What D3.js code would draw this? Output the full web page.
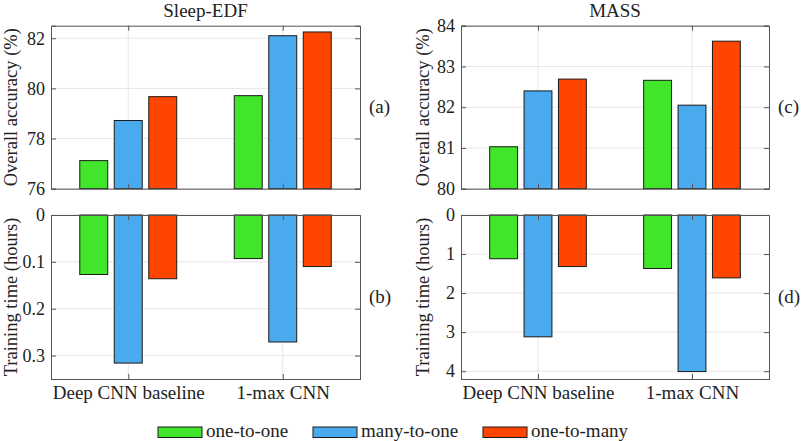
<!DOCTYPE html>
<html>
<head>
<meta charset="utf-8">
<script src="https://cdn.jsdelivr.net/npm/d3@7"></script>
<style>
  html, body { margin: 0; padding: 0; background: #fff; }
  svg { display: block; font-family: "Liberation Serif", "Times New Roman", serif; }
</style>
</head>
<body>
<svg id="chart" width="805" height="441"></svg>
<script>
// ---- data ----
const categories = ["Deep CNN baseline", "1-max CNN"];
const seriesNames = ["one-to-one", "many-to-one", "one-to-many"];
const seriesColors = ["#41e62b", "#4aaaee", "#ff4500"];

// values per category, in series order
const edfAccuracy = [[77.12, 78.72, 79.67], [79.71, 82.10, 82.25]];
const edfTime = [[0.127, 0.316, 0.136], [0.093, 0.271, 0.110]];
const massAccuracy = [[81.03, 82.40, 82.69], [82.66, 82.05, 83.62]];
const massTime = [[1.12, 3.12, 1.32], [1.37, 4.01, 1.61]];

const edfAccTicks = [76, 78, 80, 82];
const edfTimeTicks = [0, 0.1, 0.2, 0.3];
const massAccTicks = [80, 81, 82, 83, 84];
const massTimeTicks = [0, 1, 2, 3, 4];

const titles = ["Sleep-EDF", "MASS"];
const panelLetters = ["(a)", "(b)", "(c)", "(d)"];
const yLabels = ["Overall accuracy (%)", "Training time (hours)"];

// ---- layout ----
const svg = d3.select("#chart");
const FONT = 18;
const FONT_L = 19;
const cols = [{x0: 51, x1: 360}, {x0: 461, x1: 769}];
const rowsY = [{y0: 25.7, y1: 188.7}, {y0: 215, y1: 379}];

const panels = [
  {col: 0, row: 0, data: edfAccuracy, ticks: edfAccTicks, domain: [76, 82.5], fmt: d => d, letter: panelLetters[0]},
  {col: 0, row: 1, data: edfTime, ticks: edfTimeTicks, domain: [0, 0.35], fmt: d => d === 0 ? "0" : d3.format(".1f")(d), letter: panelLetters[1]},
  {col: 1, row: 0, data: massAccuracy, ticks: massAccTicks, domain: [80, 84], fmt: d => d, letter: panelLetters[2]},
  {col: 1, row: 1, data: massTime, ticks: massTimeTicks, domain: [0, 4.2], fmt: d => d, letter: panelLetters[3]},
];

const offsets = [-0.2233, 0, 0.2233];
const barW = 0.181;

function ci2x(ci) { return ci + 1; }

panels.forEach(p => {
  const c = cols[p.col], r = rowsY[p.row];
  const x = d3.scaleLinear().domain([0.5, 2.5]).range([c.x0, c.x1]);
  const y = p.row === 0
    ? d3.scaleLinear().domain(p.domain).range([r.y1, r.y0])
    : d3.scaleLinear().domain(p.domain).range([r.y0, r.y1]);
  const g = svg.append("g");

  // grid
  g.append("g").selectAll("line.h").data(p.ticks).join("line")
    .attr("x1", c.x0).attr("x2", c.x1)
    .attr("y1", d => y(d)).attr("y2", d => y(d))
    .attr("stroke", "#e6e6e6").attr("stroke-width", 1);
  g.append("g").selectAll("line.v").data([1, 2]).join("line")
    .attr("x1", d => x(d)).attr("x2", d => x(d))
    .attr("y1", r.y0).attr("y2", r.y1)
    .attr("stroke", "#e6e6e6").attr("stroke-width", 1);

  // bars
  const flat = [];
  p.data.forEach((vals, ci) => vals.forEach((v, si) => flat.push({ci, si, v})));
  const base = p.row === 0 ? p.domain[0] : 0;
  g.append("g").selectAll("rect").data(flat).join("rect")
    .attr("x", d => x(ci2x(d.ci) + offsets[d.si] - barW / 2))
    .attr("width", d => x(barW) - x(0))
    .attr("y", d => Math.min(y(d.v), y(base)))
    .attr("height", d => Math.abs(y(d.v) - y(base)))
    .attr("fill", d => seriesColors[d.si])
    .attr("stroke", "#1a1a1a").attr("stroke-width", 1);

  // axes
  const axL = d3.axisLeft(y).tickValues(p.ticks).tickSize(-5).tickPadding(6).tickFormat(p.fmt);
  const axR = d3.axisRight(y).tickValues(p.ticks).tickSize(-5).tickFormat("");
  const axB = d3.axisBottom(x).tickValues([1, 2]).tickSize(-5).tickPadding(7)
    .tickFormat(d => p.row === 1 ? categories[d - 1] : "");
  const axT = d3.axisTop(x).tickValues([1, 2]).tickSize(-5).tickFormat("");

  const styleAxis = (sel, size) => {
    sel.selectAll("path, line").attr("stroke", "#555");
    sel.selectAll("text").attr("fill", "#222").style("font-size", size + "px")
      .style("font-family", "'Liberation Serif', serif");
    sel.attr("font-family", null).attr("font-size", null);
  };
  g.append("g").attr("transform", `translate(${c.x0},0)`).call(axL).call(styleAxis, FONT);
  g.append("g").attr("transform", `translate(${c.x1},0)`).call(axR).call(styleAxis, FONT);
  g.append("g").attr("transform", `translate(0,${r.y1})`).call(axB).call(styleAxis, FONT_L);
  g.append("g").attr("transform", `translate(0,${r.y0})`).call(axT).call(styleAxis, FONT);
  g.selectAll(".domain").attr("stroke", "#555");

  // y label
  const ly = (r.y0 + r.y1) / 2;
  const lx = p.col === 0 ? 17 : 429;
  g.append("text")
    .attr("transform", `translate(${lx},${ly}) rotate(-90)`)
    .attr("text-anchor", "middle")
    .attr("fill", "#222")
    .style("font-size", "18.5px")
    .text(yLabels[p.row]);

  // panel letter
  g.append("text")
    .attr("x", c.x1 + 9).attr("y", ly + 6)
    .attr("fill", "#222").style("font-size", FONT_L + "px")
    .text(p.letter);

  // title
  if (p.row === 0) {
    g.append("text")
      .attr("x", (c.x0 + c.x1) / 2).attr("y", 17)
      .attr("text-anchor", "middle").attr("fill", "#222")
      .style("font-size", FONT_L + "px")
      .text(titles[p.col]);
  }
});

// legend
const legendX = [158, 313, 483];
const lg = svg.append("g");
seriesNames.forEach((name, i) => {
  lg.append("rect").attr("x", legendX[i]).attr("y", 427).attr("width", 44).attr("height", 10.5)
    .attr("fill", seriesColors[i]).attr("stroke", "#1a1a1a").attr("stroke-width", 1);
  lg.append("text").attr("x", legendX[i] + 48).attr("y", 437)
    .attr("fill", "#222").style("font-size", FONT_L + "px").text(name);
});
</script>
</body>
</html>
